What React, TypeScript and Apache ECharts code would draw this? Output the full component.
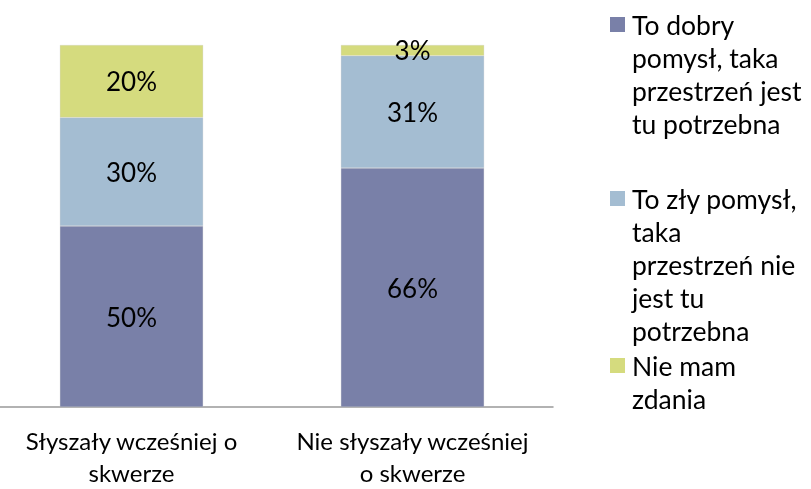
import React, { useEffect, useRef } from "react";
import * as echarts from "echarts";

const categories = ["Słyszały wcześniej o\nskwerze", "Nie słyszały wcześniej\no skwerze"];
const seriesNames = [
  "To dobry pomysł, taka przestrzeń jest tu potrzebna",
  "To zły pomysł, taka przestrzeń nie jest tu potrzebna",
  "Nie mam zdania",
];
const legendLines = [
  "To dobry\npomysł, taka\nprzestrzeń jest\ntu potrzebna",
  "To zły pomysł,\ntaka\nprzestrzeń nie\njest tu\npotrzebna",
  "Nie mam\nzdania",
];
const goodIdea = [50, 66];
const badIdea = [30, 31];
const noOpinion = [20, 3];
const colors = ["#7980A8", "#A4BDD2", "#D5DB7E"];

const FONT = "Lato, 'Open Sans', sans-serif";
const SHIFT = 9;

export default function App() {
  const ref = useRef<HTMLDivElement>(null);
  useEffect(() => {
    if (!ref.current) return;
    const chart = echarts.init(ref.current, undefined, { renderer: "svg" });
    const values = [goodIdea, badIdea, noOpinion];
    const legendTops = [25, 199, 366];
    const graphics: any[] = [];
    legendLines.forEach((txt, i) => {
      graphics.push({
        type: "rect",
        shape: { x: 610 + SHIFT, y: legendTops[i] - 8, width: 15, height: 15 },
        style: { fill: colors[i] },
      });
      graphics.push({
        type: "text",
        x: 632 + SHIFT,
        y: legendTops[i] - 16.5,
        style: {
          text: txt,
          font: `26.5px ${FONT}`,
          fill: "#000",
          lineHeight: 33,
          verticalAlign: "top",
          align: "left",
        },
      });
    });
    chart.setOption({
      animation: false,
      grid: { left: 0, right: 811 - 553, top: 45, bottom: 82, containLabel: false },
      xAxis: {
        type: "category",
        data: categories,
        axisLine: { lineStyle: { color: "#999", width: 1.5 } },
        axisTick: { show: false },
        axisLabel: {
          fontFamily: FONT,
          fontSize: 24,
          color: "#000",
          lineHeight: 32,
          margin: 17,
          interval: 0,
        },
      },
      yAxis: { type: "value", min: 0, max: 100, show: false, splitLine: { show: false } },
      series: values.map((v, i) => ({
        name: seriesNames[i],
        type: "bar",
        stack: "total",
        data: v,
        barWidth: "51%",
        itemStyle: { color: colors[i], borderColor: "rgba(200,200,200,0.6)", borderWidth: 0.5 },
        label: {
          show: true,
          position: "inside",
          formatter: "{c}%",
          fontFamily: FONT,
          fontSize: 26,
          color: "#000",
        },
      })),
      graphic: graphics,
    });
    return () => chart.dispose();
  }, []);
  return (
    <div
      ref={ref}
      style={{ position: "fixed", left: -SHIFT, top: 0, width: 811 + SHIFT, height: 489 }}
    />
  );
}
